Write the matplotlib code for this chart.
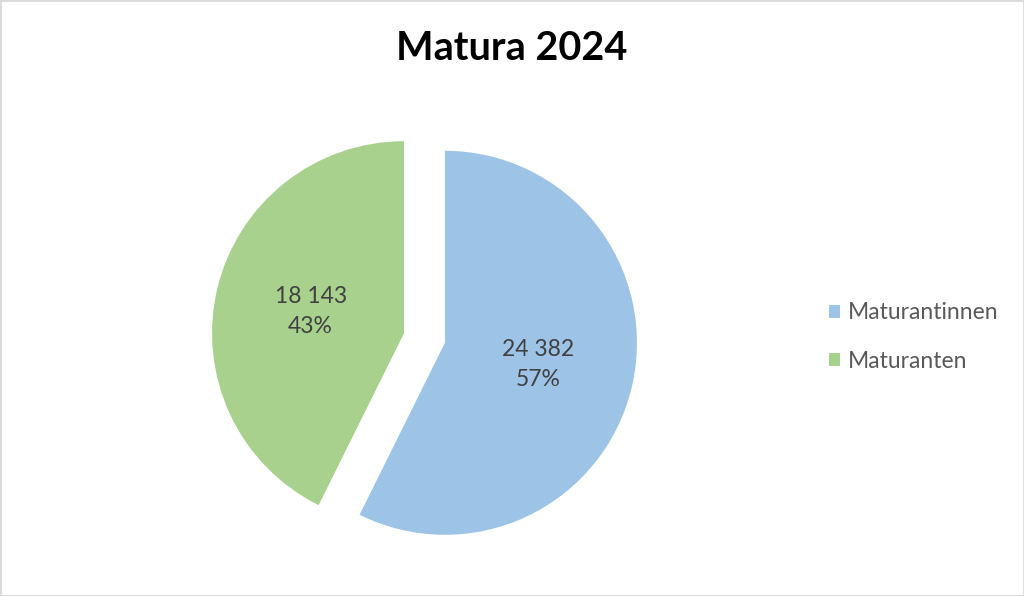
import matplotlib.pyplot as plt
from matplotlib.patches import Rectangle

plt.rcParams['font.family'] = ['Lato', 'DejaVu Sans']

# data
categories = ['Maturantinnen', 'Maturanten']
values = [24382, 18143]
colors = ['#9DC3E6', '#A9D18E']
title = 'Matura 2024'

total = sum(values)

def fmt(pct):
    n = round(pct * total / 100)
    return f"{n:,}".replace(",", " ") + f"\n{pct:.0f}%"

fig = plt.figure(figsize=(10.24, 5.96), dpi=100)
ax = fig.add_axes([0, 0, 1, 1])

# explode is in data units here (pixels), since the axes spans the figure 1:1
wedges, texts, autotexts = ax.pie(
    values, colors=colors, startangle=90, counterclock=False,
    explode=[21, 21], center=(424.5, 258), radius=192,
    autopct=fmt, pctdistance=0.5,
    textprops=dict(color='#404040', fontsize=16.5, linespacing=1.55),
    wedgeprops=dict(linewidth=0),
)
ax.set_xlim(0, 1024)
ax.set_ylim(0, 596)
ax.set_aspect('equal')
ax.axis('off')

fig.text(0.5, 1 - 49 / 596, title, ha='center', va='center',
         fontsize=28.5, fontweight='bold', color='black')

leg = ax.legend(wedges, categories, loc='center left',
                bbox_to_anchor=(808 / 1024, 1 - 337 / 596),
                frameon=False, fontsize=16.5, labelcolor='#595959',
                handlelength=0.5, handleheight=0.5, handletextpad=0.35,
                labelspacing=1.2)

fig.patches.append(Rectangle((0, 0), 1, 1, transform=fig.transFigure,
                             fill=False, edgecolor='#D9D9D9', linewidth=2))

plt.savefig('out.png', dpi=100)
